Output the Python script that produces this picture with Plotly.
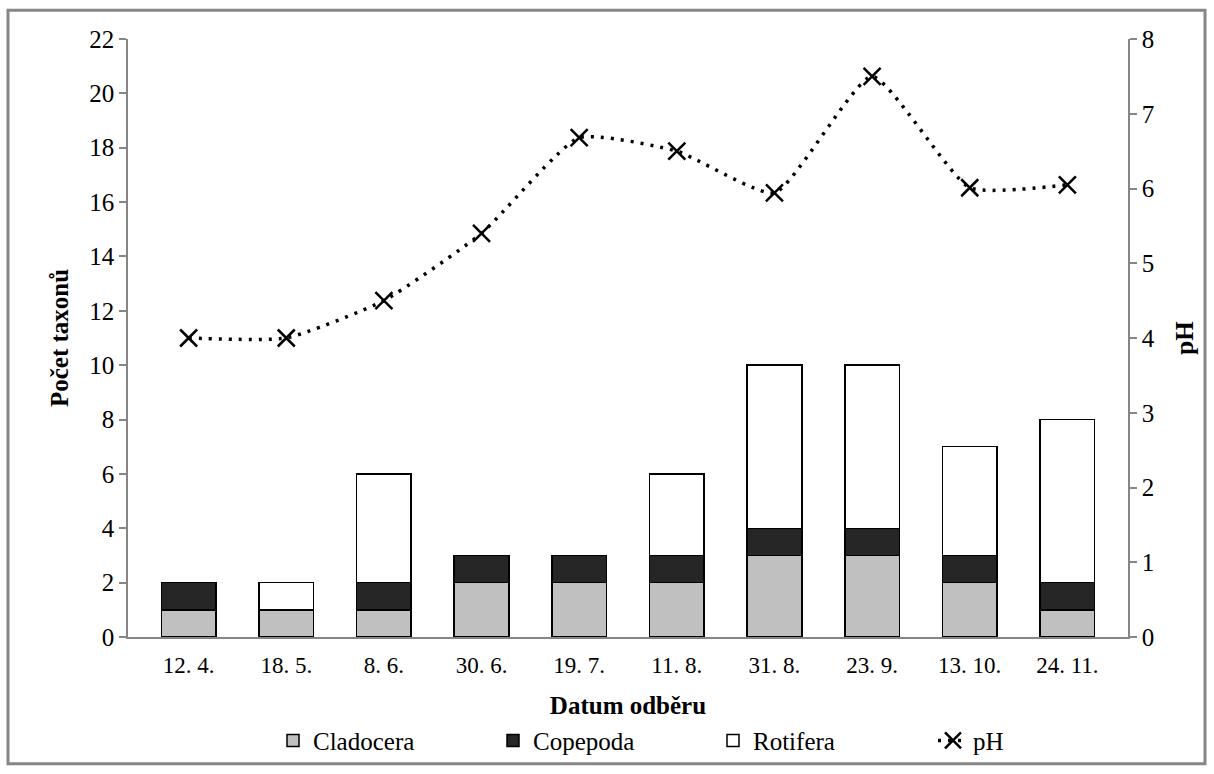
import plotly.graph_objects as go

# Sampling dates and counts of taxa per group
dates = ["12. 4.", "18. 5.", "8. 6.", "30. 6.", "19. 7.", "11. 8.", "31. 8.", "23. 9.", "13. 10.", "24. 11."]
cladocera = [1, 1, 1, 2, 2, 2, 3, 3, 2, 1]
copepoda = [1, 0, 1, 1, 1, 1, 1, 1, 1, 1]
rotifera = [0, 1, 4, 0, 0, 3, 6, 6, 4, 6]
ph = [4.0, 4.0, 4.5, 5.4, 6.68, 6.5, 5.94, 7.5, 6.01, 6.05]

left_ticks = list(range(0, 23, 2))
right_ticks = list(range(0, 9))

FONT = "Liberation Serif, Times New Roman, serif"
AXIS_GREY = "#868686"

fig = go.Figure()

bar_line = dict(color="black", width=1.5)
fig.add_trace(go.Bar(x=dates, y=cladocera, name="Cladocera",
                     marker=dict(color="#c0c0c0", line=bar_line)))
fig.add_trace(go.Bar(x=dates, y=copepoda, name="Copepoda",
                     marker=dict(color="#262626", line=bar_line)))
fig.add_trace(go.Bar(x=dates, y=rotifera, name="Rotifera",
                     marker=dict(color="white", line=bar_line)))

fig.add_trace(go.Scatter(
    x=dates, y=ph, name="pH", yaxis="y2", mode="lines+markers",
    line=dict(color="black", width=3.5, dash="3px,7px", shape="spline", smoothing=0.5),
    marker=dict(symbol="x-thin", size=17, line=dict(color="black", width=2.5)),
))

fig.update_layout(
    width=1214, height=774,
    paper_bgcolor="white", plot_bgcolor="white",
    barmode="stack", bargap=0.44,
    margin=dict(l=128, r=86, t=39, b=137, autoexpand=False),
    font=dict(family=FONT, size=22, color="black"),
    showlegend=True,
    legend=dict(orientation="h", x=0.145, xanchor="left", y=-0.135, yanchor="top",
                font=dict(family=FONT, size=25), traceorder="normal",
                bgcolor="rgba(0,0,0,0)",
                itemwidth=30, entrywidthmode="pixels", entrywidth=175),
    xaxis=dict(
        tickvals=dates, ticktext=dates, showgrid=False, zeroline=False,
        showline=True, linecolor=AXIS_GREY, linewidth=2, ticks="",
        ticklabelstandoff=6,
        tickfont=dict(family=FONT, size=23),
        title=dict(text="<b>Datum odběru</b>", font=dict(family=FONT, size=25), standoff=20),
    ),
    yaxis=dict(
        range=[0, 22], tickvals=left_ticks, showgrid=False, zeroline=False,
        showline=True, linecolor=AXIS_GREY, linewidth=1.5,
        ticks="outside", ticklen=7, tickcolor=AXIS_GREY, tickwidth=1.5,
        tickfont=dict(family=FONT, size=25),
        title=dict(text="<b>Počet taxonů</b>", font=dict(family=FONT, size=25), standoff=14),
    ),
    yaxis2=dict(
        range=[0, 8], tickvals=right_ticks, overlaying="y", side="right",
        showgrid=False, zeroline=False,
        showline=True, linecolor=AXIS_GREY, linewidth=1.5,
        ticks="outside", ticklen=7, tickcolor=AXIS_GREY, tickwidth=1.5,
        tickfont=dict(family=FONT, size=25),
        title=dict(text="<b>pH</b>", font=dict(family=FONT, size=25), standoff=22),
    ),
    shapes=[dict(type="rect", xref="paper", yref="paper",
                 x0=-0.12, x1=1.077, y0=-0.212, y1=1.048,
                 line=dict(color="#868686", width=3), fillcolor="rgba(0,0,0,0)",
                 layer="below")],
)

fig.write_html("out.html")
